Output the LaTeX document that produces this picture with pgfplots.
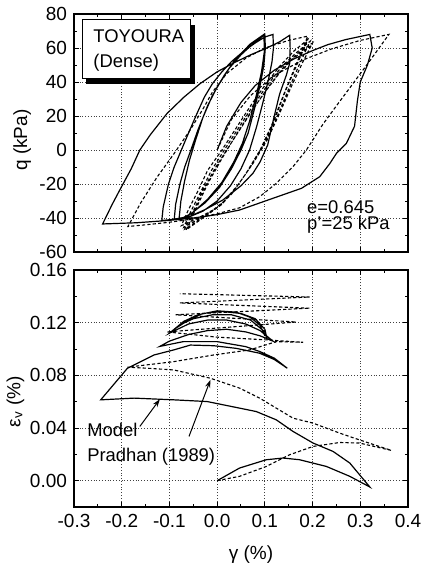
\documentclass[border=0pt]{standalone}
\usepackage{fontspec}
\setmainfont{Liberation Sans}
\usepackage{pgfplots}
\pgfplotsset{compat=1.18}
\usetikzlibrary{arrows.meta}
\pgfplotsset{
  every axis/.append style={
    scale only axis,
    width=167pt,
    xmin=-0.3, xmax=0.4,
    xtick={-0.3,-0.2,-0.1,0,0.1,0.2,0.3,0.4},
    minor x tick num=1,
    minor y tick num=1,
    tick align=inside,
    major tick length=2.6pt,
    minor tick length=1.6pt,
    grid=major,
    major grid style={densely dotted, black!75, line width=0.45pt},
    axis line style={line width=0.6pt},
    every tick/.style={black, line width=0.5pt},
    tick label style={font=\fontsize{9.5}{11}\selectfont},
    label style={font=\fontsize{9.5}{11}\selectfont},
    /pgf/number format/assume math mode=true,
  },
  model/.style={black, line width=0.6pt, mark=none},
  exper/.style={black, line width=0.55pt, mark=none, dash pattern=on 1.6pt off 1.1pt},
}
\begin{document}
\begin{tikzpicture}[font=\fontsize{9.2}{10.5}\selectfont]
\useasboundingbox (0,0) rectangle (211pt,-282pt);
% ---------------- top: q vs gamma ----------------
\begin{axis}[
  at={(37pt,-126pt)}, anchor=south west,
  height=119pt,
  ymin=-60, ymax=80,
  ytick={-60,-40,-20,0,20,40,60,80},
  xticklabels={},
  ylabel={q (kPa)},
  ylabel style={at={(axis description cs:-0.155,0.47)}, anchor=center},
]
% Model (solid)
\addplot[model] coordinates {
(0,0)(0.02,14)(0.05,28)(0.08,38)(0.12,47)(0.16,53.5)(0.2,58.5)(0.232,62)(0.27,65)(0.32,68)
(0.325,60)(0.315,50)(0.30,40)(0.294,29)(0.288,14)(0.271,4)(0.25,-2)(0.236,-8)(0.215,-15.7)(0.177,-22.5)(0.117,-28.4)(0.047,-35.3)(0.0,-38)(-0.05,-40)(-0.105,-41.5)(-0.17,-42.8)(-0.24,-43.5)
(-0.22,-32)(-0.204,-23.5)(-0.18,-11)(-0.162,0)(-0.14,9)(-0.105,21.5)(-0.07,31)(-0.036,39)(0,46)(0.033,51)(0.07,56)(0.1,59.5)(0.13,63.5)(0.152,67.5)
(0.153,60)(0.152,51)(0.145,44)(0.131,33)(0.118,18)(0.106,3)(0.09,-7)(0.075,-13.7)(0.05,-21)(0.012,-29.4)(-0.025,-35)(-0.057,-39)(-0.09,-40.7)(-0.116,-41.5)
(-0.113,-33.5)(-0.102,-20)(-0.09,-10)(-0.075,0)(-0.06,10)(-0.043,21)(-0.027,31)(-0.01,39)(0.01,46)(0.03,52)(0.055,58)(0.08,63)(0.1,66.5)(0.117,68)
(0.118,60)(0.115,52)(0.108,42)(0.096,28)(0.083,14)(0.068,0)(0.05,-11)(0.028,-21)(0.0,-30)(-0.03,-36)(-0.06,-39.5)(-0.09,-41)
(-0.087,-32)(-0.078,-20)(-0.068,-10)(-0.055,0)(-0.04,12)(-0.02,26)(0.0,37)(0.025,48)(0.05,56)(0.075,62.5)(0.1,68)
(0.101,60)(0.098,50)(0.09,38)(0.078,24)(0.065,10)(0.05,0)(0.03,-11)(0.005,-22)(-0.025,-31)(-0.055,-37.5)(-0.08,-41)
(-0.076,-30)(-0.068,-18)(-0.058,-6)(-0.045,6)(-0.03,19)(-0.01,32)(0.015,44)(0.04,54)(0.07,62.5)(0.098,68)
(0.099,58)(0.093,46)(0.082,32)(0.068,17)(0.053,4)(0.035,-7)(0.01,-19)(-0.02,-29)(-0.05,-36.5)(-0.075,-41)
};
% Pradhan (1989) (dashed)
\addplot[exper] coordinates {
(0,0)(0.03,18)(0.07,32)(0.12,44)(0.18,53)(0.24,59.5)(0.3,64.5)(0.36,68)
(0.32,52.5)(0.28,37.3)(0.25,26)(0.222,15.3)(0.187,0)(0.159,-9.8)(0.124,-19.6)(0.089,-27.5)(0.047,-34)(0,-37.5)(-0.05,-40.5)(-0.1,-42.5)(-0.15,-44)(-0.187,-45)
(-0.16,-31)(-0.126,-16)(-0.09,-2)(-0.056,12)(-0.03,24)(-0.01,34)(0.02,45)(0.06,54)(0.1,60)(0.15,64.5)(0.19,67)
(0.165,50)(0.14,33)(0.115,15)(0.09,0)(0.06,-14)(0.03,-26)(0,-34)(-0.04,-40)(-0.075,-44.5)
(-0.06,-35)(-0.04,-24)(-0.02,-12)(0.01,0)(0.04,13)(0.07,26)(0.1,38)(0.13,49)(0.16,58)(0.19,65)
(0.17,52)(0.145,36)(0.12,18)(0.095,2)(0.065,-12)(0.035,-24)(0.005,-33)(-0.035,-40)(-0.07,-45.5)
(-0.055,-36)(-0.035,-25)(-0.012,-12)(0.015,0)(0.045,13)(0.075,26)(0.105,38)(0.135,49)(0.165,57)(0.195,64)
(0.175,52)(0.15,36)(0.125,19)(0.1,4)(0.07,-10)(0.04,-22)(0.01,-32)(-0.03,-40)(-0.068,-46.5)
(-0.05,-36)(-0.03,-24)(-0.005,-11)(0.02,0)(0.05,13)(0.08,26)(0.11,38)(0.14,49)(0.17,57)(0.2,63)
(0.18,52)(0.155,37)(0.13,21)(0.105,6)(0.075,-8)(0.045,-20)(0.015,-30)(-0.025,-39)(-0.065,-47)
(-0.045,-35)(-0.02,-20)(0.01,-5)(0.04,9)(0.07,22)(0.1,34)(0.13,45)(0.16,54)(0.2,62)
};
% label box with shadow
\fill[black] (axis cs:-0.275,73.5) rectangle (axis cs:-0.047,39);
\draw[fill=white, line width=0.5pt] (axis cs:-0.283,76.5) rectangle (axis cs:-0.055,42);
\node[anchor=base west, inner sep=0pt] at (axis cs:-0.26,63) {TOYOURA};
\node[anchor=base west, inner sep=0pt] at (axis cs:-0.26,48.5) {(Dense)};
\node[anchor=base west, inner sep=0pt] at (axis cs:0.188,-37.3) {e=0.645};
\node[anchor=base west, inner sep=0pt] at (axis cs:0.188,-46.8) {p'=25 kPa};
\end{axis}
% ---------------- bottom: eps_v vs gamma ----------------
\begin{axis}[
  at={(37pt,-253.5pt)}, anchor=south west,
  height=118.5pt,
  ymin=-0.02, ymax=0.16,
  ytick={0,0.04,0.08,0.12,0.16},
  yticklabel style={/pgf/number format/fixed, /pgf/number format/fixed zerofill, /pgf/number format/precision=2},
  xticklabel style={/pgf/number format/fixed, /pgf/number format/fixed zerofill, /pgf/number format/precision=1},
  xlabel={γ (\%)},
  xlabel style={at={(axis description cs:0.53,-0.2)}, anchor=center},
  ylabel={ε\textsubscript{v} (\%)},
  ylabel style={at={(axis description cs:-0.175,0.445)}, anchor=center},
]
\addplot[model] coordinates {
(0,0)(0.047,0.0096)(0.103,0.0159)(0.138,0.0172)(0.173,0.0159)(0.229,0.0108)(0.278,0.0033)(0.32,-0.0048)
(0.278,0.0134)(0.243,0.0222)(0.201,0.0286)(0.159,0.0374)(0.124,0.0462)(0.082,0.0525)(0.047,0.0551)(-0.021,0.0601)(-0.091,0.0614)(-0.174,0.0627)(-0.244,0.0614)
(-0.188,0.0854)(-0.132,0.0955)(-0.091,0.0993)(-0.056,0.103)(-0.007,0.1025)(0.04,0.1005)(0.089,0.0968)(0.12,0.092)(0.147,0.0854)
(0.12,0.093)(0.09,0.098)(0.06,0.1018)(0.0,0.1056)(-0.071,0.1056)(-0.12,0.102)
(-0.1,0.106)(-0.06,0.111)(-0.02,0.114)(0.02,0.115)(0.06,0.113)(0.09,0.11)(0.117,0.106)
(0.09,0.114)(0.06,0.119)(0.02,0.122)(-0.02,0.122)(-0.06,0.119)(-0.1,0.112)
(-0.08,0.118)(-0.05,0.123)(-0.01,0.126)(0.03,0.126)(0.07,0.122)(0.1,0.113)(0.105,0.107)
(0.1,0.115)(0.08,0.123)(0.05,0.127)(0.01,0.1285)(-0.03,0.127)(-0.06,0.122)(-0.09,0.115)
(-0.07,0.121)(-0.04,0.126)(0.0,0.129)(0.04,0.128)(0.07,0.124)(0.09,0.118)(0.1,0.11)
};
\addplot[exper] coordinates {
(0,0)(0.047,0.0033)(0.103,0.0108)(0.152,0.0197)(0.201,0.026)(0.257,0.029)(0.298,0.0286)(0.365,0.023)
(0.298,0.031)(0.257,0.0361)(0.201,0.0437)(0.159,0.0475)(0.124,0.0551)(0.089,0.0627)(0.047,0.0703)(-0.014,0.0778)(-0.091,0.0841)(-0.146,0.0854)(-0.188,0.0862)
(-0.091,0.0904)(-0.007,0.0955)(0.068,0.0993)(0.124,0.1056)(0.18,0.1051)
(0.1,0.107)(0.0,0.109)(-0.105,0.113)
(0.166,0.1205)(-0.087,0.126)(0.194,0.131)(-0.078,0.135)(0.194,0.1395)(-0.078,0.142)
};
\node[anchor=base west, inner sep=0pt] at (axis cs:-0.273,0.0334) {Model};
\node[anchor=base west, inner sep=0pt] at (axis cs:-0.273,0.0146) {Pradhan (1989)};
\draw[line width=0.5pt, -{Stealth[length=4pt,width=2.6pt]}] (axis cs:-0.162,0.0412) -- (axis cs:-0.12,0.0619);
\draw[line width=0.5pt, -{Stealth[length=4pt,width=2.6pt]}] (axis cs:-0.059,0.0336) -- (axis cs:-0.014,0.0766);
\end{axis}
\end{tikzpicture}
\end{document}
